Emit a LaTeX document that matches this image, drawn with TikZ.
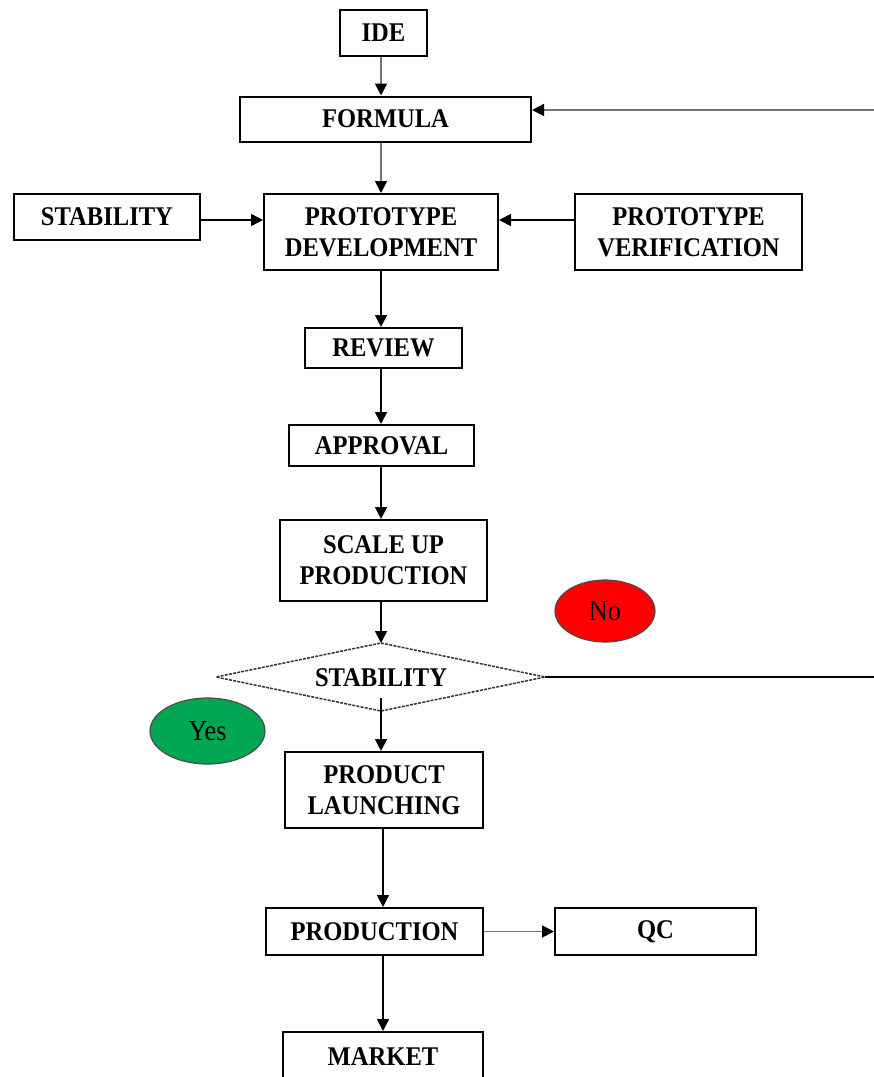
\documentclass[tikz,border=0pt]{standalone}
\usepackage{fontspec}
\setmainfont{Liberation Serif}[FakeStretch=0.91]
\usetikzlibrary{arrows.meta,shapes.geometric}
\begin{document}
\begin{tikzpicture}[x=1pt,y=-1pt,
  box/.style={draw=black,line width=2pt,rectangle,inner sep=0pt,align=center,
    font=\fontsize{27}{31}\selectfont\bfseries},
  conn/.style={line width=1.8pt,-{Triangle[length=12pt,width=12pt,color=black]}},
  gconn/.style={conn,draw=black!55},
  oval/.style={ellipse,draw=black!70,line width=1.2pt,inner sep=0pt,
    font=\fontsize{29}{31}\selectfont}]
\useasboundingbox (0,0) rectangle (874,1077);
\clip (0,0) rectangle (874,1077);
\fill[white] (0,0) rectangle (874,1077);
% nodes
\node[box,minimum width=87pt,minimum height=46pt] (ide) at (383.5,33) {IDE};
\node[box,minimum width=291pt,minimum height=45pt] (formula) at (385.5,119) {FORMULA};
\node[box,minimum width=186pt,minimum height=46pt] (stab1) at (107,217) {STABILITY};
\node[box,minimum width=234pt,minimum height=76pt] (pd) at (381,232) {PROTOTYPE\\DEVELOPMENT};
\node[box,minimum width=227pt,minimum height=76pt] (pv) at (688.5,232) {PROTOTYPE\\VERIFICATION};
\node[box,minimum width=157pt,minimum height=40pt] (review) at (383.5,348) {REVIEW};
\node[box,minimum width=185pt,minimum height=41pt] (approval) at (381.5,445.5) {APPROVAL};
\node[box,minimum width=207pt,minimum height=81pt] (scaleup) at (383.5,560.5) {SCALE UP\\PRODUCTION};
\node[oval,fill=red,minimum width=100pt,minimum height=62pt] (no) at (605,611) {No};
% diamond
\coordinate (dtop) at (381,643);
\coordinate (dleft) at (216,677);
\coordinate (dright) at (545,677);
\coordinate (dbot) at (381,711);
\draw[black!80,line width=1.5pt,dash pattern=on 3pt off 1.2pt] (dtop) -- (dright) -- (dbot) -- (dleft) -- cycle;
\node[font=\fontsize{27}{31}\selectfont\bfseries,inner sep=0pt] (dia) at (381,678) {STABILITY};
\coordinate (dout) at (381,698);
\node[oval,fill={rgb,255:red,0;green,166;blue,81},minimum width=115pt,minimum height=66pt] (yes) at (207.5,731) {Yes};
\node[box,minimum width=198pt,minimum height=76pt] (pl) at (384,790) {PRODUCT\\LAUNCHING};
\node[box,minimum width=217pt,minimum height=47pt] (production) at (374.5,931.5) {PRODUCTION};
\node[box,minimum width=201pt,minimum height=47pt] (qc) at (655.5,931.5) {QC};
\node[box,minimum width=200pt,minimum height=50pt] (market) at (383,1057) {MARKET};
% feedback lines
\coordinate (r1) at (874,110);
\coordinate (r2) at (874,677);
\draw[gconn] (r1) -- (r1 -| formula.east);
\draw[line width=1.8pt] (dright) -- (r2);
% connectors
\draw[gconn] (ide.south -| 381,0) -- (formula.north -| 381,0);
\draw[gconn] (formula.south -| 381,0) -- (pd.north);
\draw[conn] (stab1.east) ++(0,3) -- ([yshift=-3pt]stab1.east -| pd.west);
\draw[conn] ([yshift=12pt]pv.west) -- ([yshift=12pt]pd.east);
\draw[conn] (pd.south) -- (review.north -| pd.south);
\draw[conn] (review.south -| pd.south) -- (approval.north -| pd.south);
\draw[conn] (approval.south -| pd.south) -- (scaleup.north -| pd.south);
\draw[conn] (scaleup.south -| pd.south) -- (dtop);
\draw[conn] (dout) -- (pl.north -| dout);
\draw[conn] (pl.south -| 383,0) -- (production.north -| 383,0);
\draw[gconn] (production.east) -- (qc.west);
\draw[conn] (production.south -| 383,0) -- (market.north -| 383,0);
\end{tikzpicture}
\end{document}
